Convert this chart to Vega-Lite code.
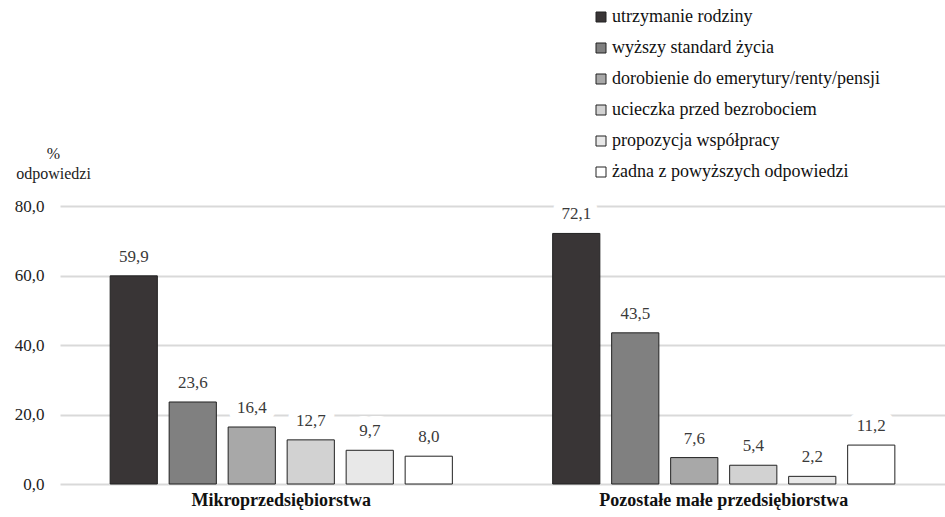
{
  "$schema": "https://vega.github.io/schema/vega-lite/v6.json",
  "autosize": {"type": "none"},
  "width": 885,
  "height": 278,
  "padding": {"left": 60, "top": 206, "right": 0, "bottom": 33},
  "view": {"stroke": null},
  "data": {
    "values": [
      {"grupa": "Mikroprzedsiębiorstwa", "powod": "utrzymanie rodziny", "wartosc": 59.9, "etykieta": "59,9"},
      {"grupa": "Mikroprzedsiębiorstwa", "powod": "wyższy standard życia", "wartosc": 23.6, "etykieta": "23,6"},
      {"grupa": "Mikroprzedsiębiorstwa", "powod": "dorobienie do emerytury/renty/pensji", "wartosc": 16.4, "etykieta": "16,4"},
      {"grupa": "Mikroprzedsiębiorstwa", "powod": "ucieczka przed bezrobociem", "wartosc": 12.7, "etykieta": "12,7"},
      {"grupa": "Mikroprzedsiębiorstwa", "powod": "propozycja współpracy", "wartosc": 9.7, "etykieta": "9,7"},
      {"grupa": "Mikroprzedsiębiorstwa", "powod": "żadna z powyższych odpowiedzi", "wartosc": 8.0, "etykieta": "8,0"},
      {"grupa": "Pozostałe małe przedsiębiorstwa", "powod": "utrzymanie rodziny", "wartosc": 72.1, "etykieta": "72,1"},
      {"grupa": "Pozostałe małe przedsiębiorstwa", "powod": "wyższy standard życia", "wartosc": 43.5, "etykieta": "43,5"},
      {"grupa": "Pozostałe małe przedsiębiorstwa", "powod": "dorobienie do emerytury/renty/pensji", "wartosc": 7.6, "etykieta": "7,6"},
      {"grupa": "Pozostałe małe przedsiębiorstwa", "powod": "ucieczka przed bezrobociem", "wartosc": 5.4, "etykieta": "5,4"},
      {"grupa": "Pozostałe małe przedsiębiorstwa", "powod": "propozycja współpracy", "wartosc": 2.2, "etykieta": "2,2"},
      {"grupa": "Pozostałe małe przedsiębiorstwa", "powod": "żadna z powyższych odpowiedzi", "wartosc": 11.2, "etykieta": "11,2"}
    ]
  },
  "encoding": {
    "x": {
      "field": "grupa", "type": "nominal", "sort": null,
      "scale": {"paddingInner": 0, "paddingOuter": 0},
      "axis": {
        "title": null, "labelAngle": 0, "domain": false, "ticks": false, "labelLimit": 500,
        "labelFont": "Liberation Serif", "labelFontSize": 18, "labelFontWeight": "bold",
        "labelColor": "#111111", "labelPadding": 7, "labelBaseline": "top"
      }
    },
    "xOffset": {
      "field": "powod", "type": "nominal", "sort": null,
      "scale": {"paddingInner": 0.2, "paddingOuter": 0.85}
    },
    "y": {
      "field": "wartosc", "type": "quantitative",
      "scale": {"domain": [0, 80]},
      "axis": {
        "values": [0, 20, 40, 60, 80],
        "labelExpr": "replace(format(datum.value, '.1f'), '.', ',')",
        "domain": false, "ticks": false,
        "grid": true, "gridColor": "#d9d9d9", "gridWidth": 2,
        "labelFont": "Liberation Serif", "labelFontSize": 17, "labelColor": "#222222", "labelPadding": 16,
        "title": ["%", "odpowiedzi"], "titleAngle": 0, "titleAlign": "center", "titleBaseline": "alphabetic",
        "titleX": -7, "titleY": -48, "titleFont": "Liberation Serif", "titleFontSize": 16,
        "titleFontWeight": "normal", "titleColor": "#222222", "titleLineHeight": 20
      }
    }
  },
  "layer": [
    {
      "mark": {"type": "bar", "stroke": "#222222", "strokeWidth": 1},
      "encoding": {
        "color": {
          "field": "powod", "type": "nominal", "sort": null,
          "scale": {
            "domain": ["utrzymanie rodziny", "wyższy standard życia", "dorobienie do emerytury/renty/pensji", "ucieczka przed bezrobociem", "propozycja współpracy", "żadna z powyższych odpowiedzi"],
            "range": ["#393536", "#808080", "#a8a8a8", "#d2d2d2", "#e8e8e8", "#ffffff"]
          },
          "legend": {
            "title": null, "orient": "none", "legendX": 532, "legendY": -198,
            "symbolType": "square", "symbolSize": 100, "symbolStrokeColor": "#222222", "symbolStrokeWidth": 1,
            "labelFont": "Liberation Serif", "labelFontSize": 18, "labelColor": "#111111",
            "labelOffset": 2, "rowPadding": 13, "labelLimit": 400
          }
        }
      }
    },
    {
      "mark": {"type": "text", "baseline": "alphabetic", "dy": -14, "fontSize": 17, "font": "Liberation Serif",
               "fill": "white", "stroke": "white", "strokeWidth": 18, "strokeJoin": "round"},
      "encoding": {"text": {"field": "etykieta", "type": "nominal"}}
    },
    {
      "mark": {"type": "text", "baseline": "alphabetic", "dy": -14, "fontSize": 17, "font": "Liberation Serif", "color": "#3a3a3a"},
      "encoding": {"text": {"field": "etykieta", "type": "nominal"}}
    }
  ]
}
